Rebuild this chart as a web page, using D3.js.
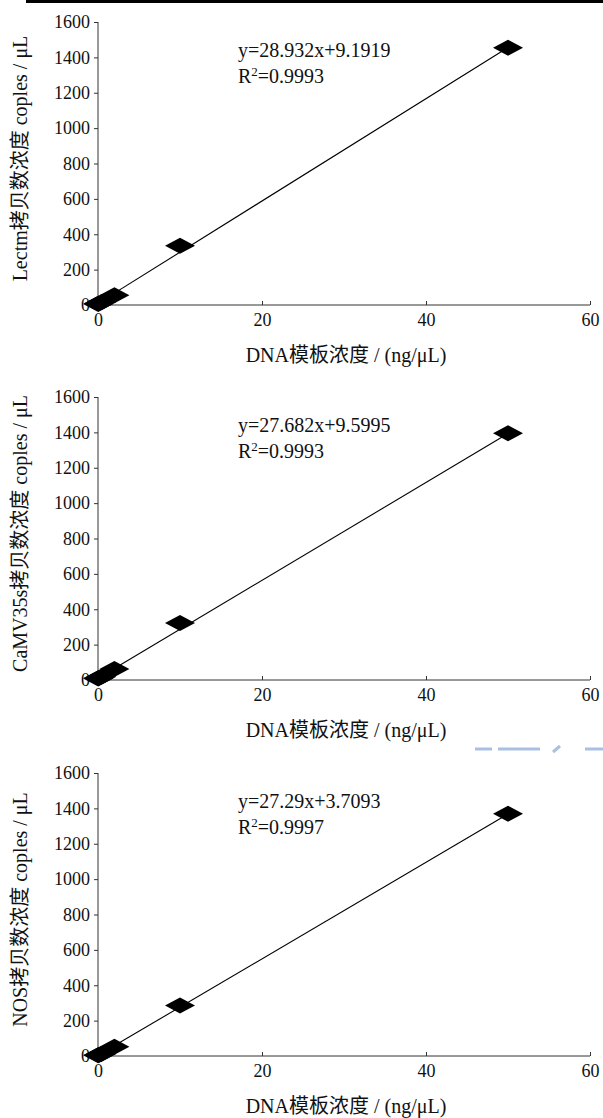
<!DOCTYPE html>
<html>
<head>
<meta charset="utf-8">
<script src="https://cdn.jsdelivr.net/npm/d3@7"></script>
<style>
  body { margin: 0; background: #fff; }
  svg { display: block; }
  text { font-family: "Liberation Serif", "Times New Roman", "Noto Sans CJK SC", serif; fill: #111; }
</style>
</head>
<body>
<svg id="chart" width="603" height="1118"></svg>
<script>
// ===============================
// Dades
// ===============================
const concentrations = [50, 10, 2, 0.4, 0.08, 0.016];   // ng/μL
const lectinCopies  = [1455, 335, 55, 16, 9, 6];
const camvCopies    = [1395, 322, 62, 19, 11, 8];
const nosCopies     = [1370, 285, 52, 12, 6, 4];

const geneNames  = ["Lectm", "CaMV35s", "NOS"];
const slopes     = [28.932, 27.682, 27.29];
const intercepts = [9.1919, 9.5995, 3.7093];
const equations  = ["y=28.932x+9.1919", "y=27.682x+9.5995", "y=27.29x+3.7093"];
const r2Values   = ["0.9993", "0.9993", "0.9997"];

const xTicks = [0, 20, 40, 60];
const yTicks = [0, 200, 400, 600, 800, 1000, 1200, 1400, 1600];

const seriesList = [lectinCopies, camvCopies, nosCopies];

// ===============================
// Layout
// ===============================
const svg = d3.select("#chart");
const plotLeft = 98, plotRight = 590;
const plotHeight = 283;
const panelTops = [22, 397, 773];

const x = d3.scaleLinear().domain([0, 60]).range([plotLeft, plotRight]);

// línia negra superior
svg.append("rect")
  .attr("x", 26).attr("y", 0)
  .attr("width", 577).attr("height", 3)
  .attr("fill", "#000");

// diamant (30 x 16)
const diamond = "M-15,0L0,-8L15,0L0,8Z";

geneNames.forEach((gene, i) => {
  const top = panelTops[i];
  const y = d3.scaleLinear().domain([0, 1600]).range([top + plotHeight, top]);
  const g = svg.append("g").attr("class", "panel");

  // eix Y
  const yAxis = g.append("g")
    .attr("transform", `translate(${plotLeft},0)`)
    .call(d3.axisLeft(y).tickValues(yTicks).tickSize(4).tickPadding(4).tickFormat(d3.format("d")));
  yAxis.select(".domain").attr("d", `M0,${y(0)}V${y(1600)}`).attr("stroke", "#333");
  yAxis.selectAll(".tick line").attr("stroke", "#333");
  yAxis.selectAll("text").style("font-size", "18px").attr("fill", "#111")
    .style("font-family", "'Liberation Serif', serif");

  // eix X (ticks cap a dins)
  const xAxis = g.append("g")
    .attr("transform", `translate(0,${y(0)})`)
    .call(d3.axisBottom(x).tickValues(xTicks).tickSize(-4).tickPadding(8).tickFormat(d3.format("d")));
  xAxis.select(".domain").attr("d", `M${plotLeft},0H${plotRight}`).attr("stroke", "#333");
  xAxis.selectAll(".tick line").attr("stroke", "#333");
  xAxis.selectAll("text").style("font-size", "18px").attr("fill", "#111")
    .style("font-family", "'Liberation Serif', serif");

  // recta de regressió
  g.append("line")
    .attr("x1", x(0)).attr("y1", y(intercepts[i]))
    .attr("x2", x(50)).attr("y2", y(slopes[i] * 50 + intercepts[i]))
    .attr("stroke", "#000").attr("stroke-width", 1.1);

  // punts
  g.selectAll(".pt")
    .data(concentrations.map((c, j) => [c, seriesList[i][j]]))
    .enter()
    .append("path")
    .attr("class", "pt")
    .attr("d", diamond)
    .attr("transform", d => `translate(${x(d[0])},${y(d[1])})`)
    .attr("fill", "#000");

  // equació
  g.append("text")
    .attr("x", 238).attr("y", top + 35)
    .style("font-size", "20px")
    .text(equations[i]);

  const r2 = g.append("text")
    .attr("x", 238).attr("y", top + 61)
    .style("font-size", "20px");
  r2.append("tspan").text("R");
  r2.append("tspan").attr("dy", -7).style("font-size", "13px").text("2");
  r2.append("tspan").attr("dy", 7).text("=" + r2Values[i]);

  // títol eix X
  g.append("text")
    .attr("x", (plotLeft + plotRight) / 2 + 2)
    .attr("y", top + plotHeight + 57)
    .attr("text-anchor", "middle")
    .style("font-size", "20px")
    .text("DNA模板浓度 / (ng/μL)");

  // títol eix Y
  g.append("text")
    .attr("transform", `translate(27,${top + plotHeight / 2 - 5}) rotate(-90)`)
    .attr("text-anchor", "middle")
    .style("font-size", "20px")
    .text(`${gene}拷贝数浓度 coples / μL`);
});

// marques blaves de l'escaneig
svg.append("path")
  .attr("d", "M475,749H492M498,749H540M553,752L560,746M585,749H603")
  .attr("stroke", "#a9c0e2")
  .attr("stroke-width", 3)
  .attr("fill", "none");
</script>
</body>
</html>
